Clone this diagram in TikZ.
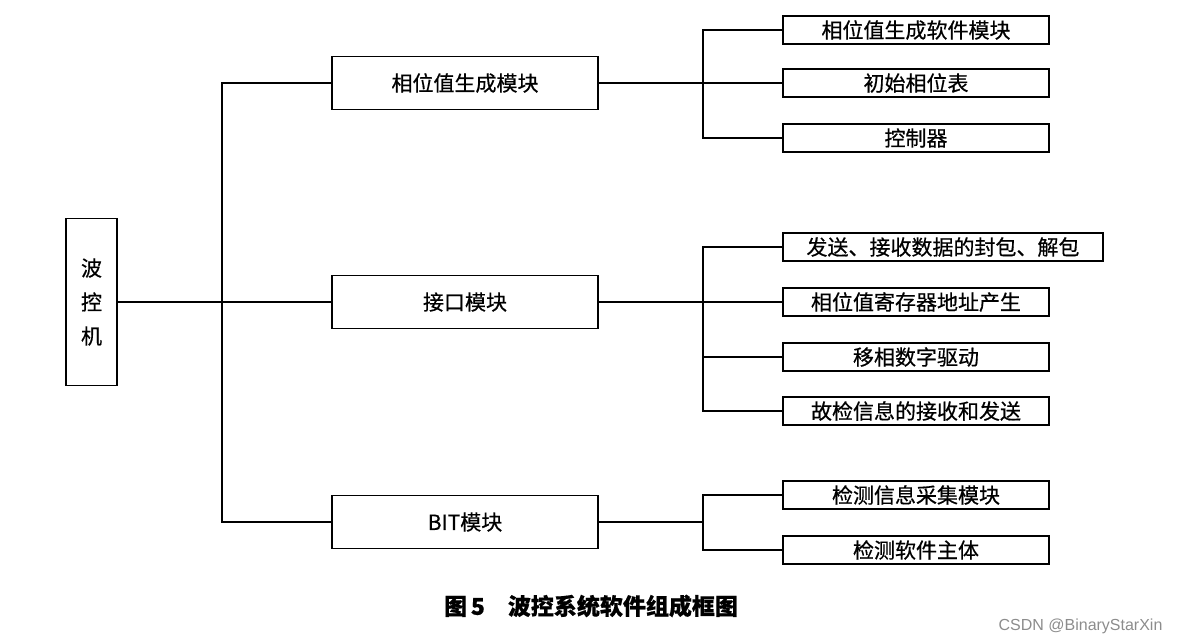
\documentclass[tikz,border=0pt]{standalone}
\usepackage{fontspec}
\newfontfamily\cjk[FakeBold=0.6]{Noto Sans CJK SC}
\newfontfamily\wmfont{Liberation Sans}
\usetikzlibrary{positioning}

\tikzset{
  box/.style={draw, line width=1.4pt, inner sep=0pt, font=\cjk\fontsize{21}{24}\selectfont},
  rootbox/.style={box, minimum width=51pt, minimum height=167pt, align=center,
    font=\cjk\fontsize{21}{34}\selectfont},
  modbox/.style={box, minimum width=266pt, minimum height=53pt},
  leafbox/.style={box, minimum width=266pt, minimum height=28pt},
  link/.style={line width=1.4pt}
}

\begin{document}
\begin{tikzpicture}[x=1pt, y=-1pt]
  \useasboundingbox (0,0) rectangle (1179,644);

  % Root
  \node[rootbox] (root) at (91.5,302) {波\\控\\机};

  % Modules
  \node[modbox] (phase) at (465,83)  {相位值生成模块};
  \node[modbox] (iface) at (465,302) {接口模块};
  \node[modbox] (bit)   at (465,522) {BIT模块};

  % Leaves of the phase module
  \node[leafbox] (phsoft) at (916,30)  {相位值生成软件模块};
  \node[leafbox] (phtab)  at (916,83)  {初始相位表};
  \node[leafbox] (phctl)  at (916,138) {控制器};

  % Leaves of the interface module
  \node[leafbox, minimum width=320pt] (ifpack) at (943,247) {发送、接收数据的封包、解包};
  \node[leafbox] (ifaddr) at (916,302) {相位值寄存器地址产生};
  \node[leafbox] (ifdrv)  at (916,357) {移相数字驱动};
  \node[leafbox] (iffault) at (916,411) {故检信息的接收和发送};

  % Leaves of the BIT module
  \node[leafbox] (bitcol)  at (916,495) {检测信息采集模块};
  \node[leafbox] (bitmain) at (916,550) {检测软件主体};

  % Buses
  \coordinate (trunk) at (222,302);
  \coordinate (busA) at (703,83);
  \coordinate (busB) at (703,302);
  \coordinate (busC) at (703,522);

  % Connectors
  \draw[link] (root.east) -- (trunk) -- (iface.west);
  \draw[link] (phase.west) -| (trunk) |- (bit.west);

  \draw[link] (phase.east) -- (phtab.west);
  \draw[link] (phsoft.west) -| (busA) |- (phctl.west);

  \draw[link] (iface.east) -- (ifaddr.west);
  \draw[link] (ifpack.west) -| (busB) |- (iffault.west);
  \draw[link] (ifdrv.west) -| (busB);

  \draw[link] (bit.east) -- (busC);
  \draw[link] (bitcol.west) -| (busC) |- (bitmain.west);

  % Caption
  \node[font=\cjk\bfseries\fontsize{23}{26}\selectfont] (caption) at (591,606) {图\,5\quad 波控系统软件组成框图};
  \node[font=\wmfont\fontsize{16}{18}\selectfont, text=black!45, anchor=east] (mark) at (1166,626) {CSDN @BinaryStarXin};
\end{tikzpicture}
\end{document}
